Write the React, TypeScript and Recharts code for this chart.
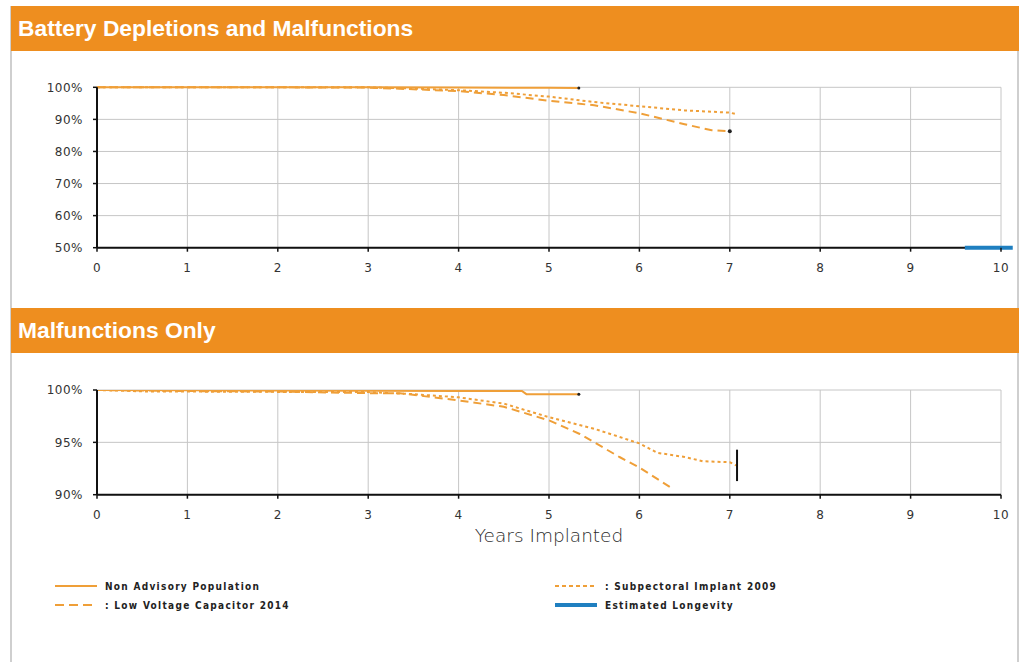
import React from 'react';
import { LineChart, Line, XAxis, YAxis, CartesianGrid, ReferenceLine } from 'recharts';

// ---------- data ----------
const YEAR_TICKS = [0, 1, 2, 3, 4, 5, 6, 7, 8, 9, 10];
const PCT_TICKS_1 = [50, 60, 70, 80, 90, 100];
const PCT_TICKS_2 = [90, 95, 100];

// Chart 1: Battery Depletions and Malfunctions
const nonAdv1X = [0, 1, 2, 3, 4, 5, 5.33];
const nonAdv1Y = [100, 100, 100, 100, 99.9, 99.85, 99.8];
const lowVolt1X = [0, 1, 2, 3, 3.5, 4, 4.5, 5, 5.5, 6, 6.5, 6.8, 7];
const lowVolt1Y = [100, 100, 100, 99.9, 99.4, 98.8, 97.6, 95.8, 94.4, 91.9, 88.5, 86.6, 86.3];
const subPec1X = [0, 1, 2, 3, 3.5, 4, 4.5, 5, 5.5, 6, 6.5, 7, 7.08];
const subPec1Y = [100, 100, 100, 100, 99.6, 99.1, 98.3, 97.1, 95.4, 94.1, 92.8, 92.1, 91.6];
const longevityX = [9.6, 10.13];
const longevityY = [50, 50];
const BASELINE_1 = 50;

// Chart 2: Malfunctions Only
const nonAdv2X = [0, 1, 2, 3, 4, 4.7, 4.75, 5.33];
const nonAdv2Y = [100, 99.97, 99.95, 99.93, 99.9, 99.9, 99.6, 99.6];
const lowVolt2X = [0, 1, 2, 3, 3.35, 4, 4.5, 5, 5.34, 5.78, 6, 6.38];
const lowVolt2Y = [100, 99.9, 99.85, 99.7, 99.7, 99.0, 98.4, 97.1, 95.8, 93.6, 92.6, 90.5];
const subPec2X = [0, 0.6, 1, 2, 3, 3.5, 4, 4.5, 5, 5.5, 6, 6.2, 6.5, 6.7, 7, 7.07];
const subPec2Y = [100, 99.85, 99.85, 99.82, 99.8, 99.6, 99.3, 98.7, 97.4, 96.3, 94.9, 94.0, 93.6, 93.2, 93.1, 92.8];
const ciBarX = [7.08, 7.08];
const ciBarY = [91.3, 94.3];

const LEGEND_LABELS = [
  'Non Advisory Population',
  ': Low Voltage Capacitor 2014',
  ': Subpectoral Implant 2009',
  'Estimated Longevity',
];

// ---------- styles ----------
const ORANGE = '#EF9F38';
const HEADER = '#EE8E1F';
const BLUE = '#1F7FC0';
const GRID = '#c6c6c6';

const zip = (xs: number[], ys: number[]) => xs.map((x, i) => ({ x, y: ys[i] }));

const endDot = (lastIdx: number, r: number) => (props: any) => {
  const { cx, cy, index } = props;
  if (index === lastIdx) {
    return <circle key={`dot-${index}`} cx={cx} cy={cy} r={r} fill="#222" />;
  }
  return <g key={`dot-${index}`} />;
};

const tickStyle = { fill: '#333', fontSize: 12, fontFamily: 'DejaVu Sans', letterSpacing: 0.5 };

const Header = ({ top, text }: { top: number; text: string }) => (
  <div
    style={{
      position: 'absolute',
      left: 11,
      top,
      width: 1008,
      height: 45,
      background: HEADER,
      color: '#fff',
      fontFamily: '"Liberation Sans", Arial, sans-serif',
      fontWeight: 'bold',
      fontSize: 22.8,
      lineHeight: '45px',
      paddingLeft: 7,
      boxSizing: 'border-box',
    }}
  >
    {text}
  </div>
);

const axisCommon = {
  tickLine: { stroke: '#111', strokeWidth: 1.5 },
  tickSize: 4,
  tick: tickStyle,
};

const pctFmt = (v: number) => `${v}%`;

export default function App() {
  const nonAdv1 = zip(nonAdv1X, nonAdv1Y);
  const lowVolt1 = zip(lowVolt1X, lowVolt1Y);
  const subPec1 = zip(subPec1X, subPec1Y);
  const nonAdv2 = zip(nonAdv2X, nonAdv2Y);
  const lowVolt2 = zip(lowVolt2X, lowVolt2Y);
  const subPec2 = zip(subPec2X, subPec2Y);

  return (
    <div style={{ position: 'absolute', left: 0, top: 0, width: 1019, height: 662, background: '#fff', overflow: 'hidden' }}>
      {/* frame borders */}
      <div style={{ position: 'absolute', left: 10, top: 6, width: 2, height: 656, background: '#cfcfcf' }} />
      <div style={{ position: 'absolute', left: 1017, top: 51, width: 2, height: 611, background: '#cfcfcf' }} />

      <Header top={6} text="Battery Depletions and Malfunctions" />
      <Header top={308} text="Malfunctions Only" />

      {/* Chart 1 */}
      <div style={{ position: 'absolute', left: 0, top: 60 }}>
        <LineChart width={1019} height={226} margin={{ top: 27.3, right: 18, bottom: 0, left: 37 }}>
          <CartesianGrid stroke={GRID} strokeWidth={1} />
          <XAxis
            type="number"
            dataKey="x"
            domain={[0, 10]}
            ticks={YEAR_TICKS}
            height={38.3}
            axisLine={false}
            tickMargin={12}
            {...axisCommon}
          />
          <YAxis
            type="number"
            dataKey="y"
            domain={[50, 100]}
            ticks={PCT_TICKS_1}
            tickFormatter={pctFmt}
            width={60}
            axisLine={{ stroke: '#111', strokeWidth: 2 }}
            tickMargin={10}
            {...axisCommon}
          />
          <ReferenceLine y={BASELINE_1} stroke="#111" strokeWidth={2} />
          <Line data={nonAdv1} dataKey="y" stroke={ORANGE} strokeWidth={2} dot={endDot(nonAdv1.length - 1, 1.5)} isAnimationActive={false} />
          <Line data={subPec1} dataKey="y" stroke={ORANGE} strokeWidth={2} strokeDasharray="3 3" dot={false} isAnimationActive={false} />
          <Line data={lowVolt1} dataKey="y" stroke={ORANGE} strokeWidth={2} strokeDasharray="8 5" dot={endDot(lowVolt1.length - 1, 2)} isAnimationActive={false} />
          <ReferenceLine
            segment={[
              { x: longevityX[0], y: longevityY[0] },
              { x: longevityX[1], y: longevityY[1] },
            ]}
            stroke={BLUE}
            strokeWidth={4}
            ifOverflow="visible"
          />
        </LineChart>
      </div>

      {/* Chart 2 */}
      <div style={{ position: 'absolute', left: 0, top: 360 }}>
        <LineChart width={1019} height={170} margin={{ top: 30, right: 18, bottom: 0, left: 37 }}>
          <CartesianGrid stroke={GRID} strokeWidth={1} />
          <XAxis
            type="number"
            dataKey="x"
            domain={[0, 10]}
            ticks={YEAR_TICKS}
            height={35.3}
            axisLine={{ stroke: '#111', strokeWidth: 2 }}
            tickMargin={12}
            {...axisCommon}
          />
          <YAxis
            type="number"
            dataKey="y"
            domain={[90, 100]}
            ticks={PCT_TICKS_2}
            tickFormatter={pctFmt}
            width={60}
            allowDataOverflow
            axisLine={{ stroke: '#111', strokeWidth: 2 }}
            tickMargin={10}
            {...axisCommon}
          />
          <Line data={nonAdv2} dataKey="y" stroke={ORANGE} strokeWidth={2} dot={endDot(nonAdv2.length - 1, 1.5)} isAnimationActive={false} />
          <Line data={subPec2} dataKey="y" stroke={ORANGE} strokeWidth={2} strokeDasharray="3 3" dot={false} isAnimationActive={false} />
          <Line data={lowVolt2} dataKey="y" stroke={ORANGE} strokeWidth={2} strokeDasharray="8 5" dot={false} isAnimationActive={false} />
          <ReferenceLine
            segment={[
              { x: ciBarX[0], y: ciBarY[0] },
              { x: ciBarX[1], y: ciBarY[1] },
            ]}
            stroke="#111"
            strokeWidth={2}
            ifOverflow="visible"
          />
        </LineChart>
      </div>

      {/* x-axis title */}
      <div
        style={{
          position: 'absolute',
          left: 399,
          top: 525,
          width: 300,
          textAlign: 'center',
          fontFamily: 'DejaVu Sans',
          fontWeight: 300,
          fontSize: 18.5,
          lineHeight: '22px',
          color: '#2a2a2a',
        }}
      >
        Years Implanted
      </div>

      {/* Legend */}
      {[
        { left: 55, top: 586, label: LEGEND_LABELS[0], color: ORANGE, dash: undefined, w: 2 },
        { left: 55, top: 605, label: LEGEND_LABELS[1], color: ORANGE, dash: '9 5', w: 2 },
        { left: 555, top: 586, label: LEGEND_LABELS[2], color: ORANGE, dash: '4 3', w: 2 },
        { left: 555, top: 605, label: LEGEND_LABELS[3], color: BLUE, dash: undefined, w: 4 },
      ].map((item, i) => (
        <div key={i} style={{ position: 'absolute', left: item.left, top: item.top - 8, height: 16, display: 'flex', alignItems: 'center' }}>
          <svg width={42} height={16} style={{ display: 'block' }}>
            <line x1={0} y1={8} x2={42} y2={8} stroke={item.color} strokeWidth={item.w} strokeDasharray={item.dash} />
          </svg>
          <span
            style={{
              marginLeft: 8,
              fontFamily: '"DejaVu Sans Condensed", "DejaVu Sans", sans-serif',
              fontWeight: 'bold',
              fontSize: 10,
              letterSpacing: 1.3,
              color: '#222',
              whiteSpace: 'nowrap',
            }}
          >
            {item.label}
          </span>
        </div>
      ))}
    </div>
  );
}
